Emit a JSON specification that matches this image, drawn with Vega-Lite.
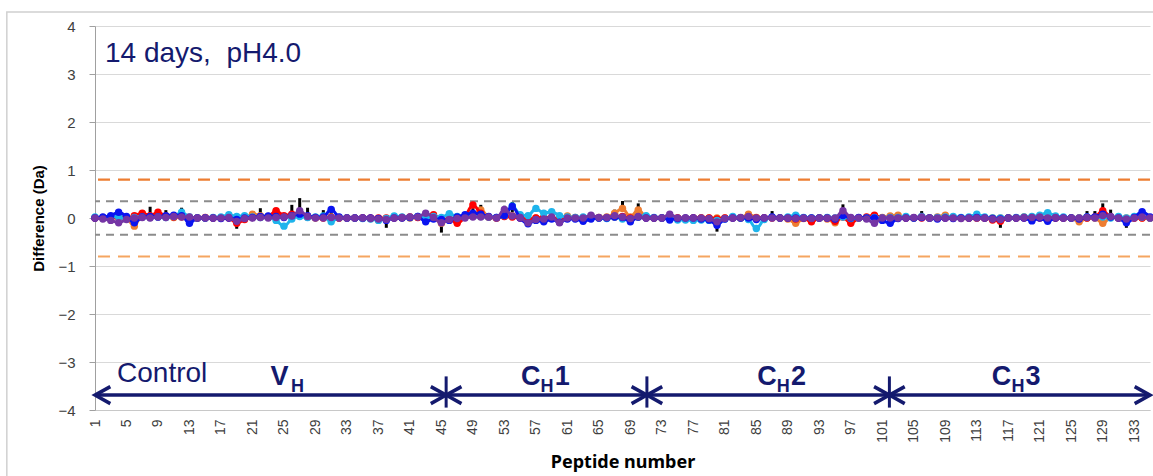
{
"$schema":"https://vega.github.io/schema/vega-lite/v6.json",
"width":1055,"height":384,
"autosize":{"type":"none"},
"padding":{"left":95,"top":26,"right":3,"bottom":66},
"background":"white",
"config":{"view":{"stroke":null},
 "axisX":{"labelAngle":-90,"labelAlign":"right","labelBaseline":"middle","labelOverlap":false,"ticks":false,"grid":false,"domainColor":"#c8c8c8","labelFont":"Liberation Sans","labelFontSize":14,"labelColor":"#404040","labelPadding":9,"titleFont":"Noto Sans","titleFontSize":18,"titleFontWeight":"bold","titleColor":"#000000","titlePadding":11},
 "axisY":{"grid":true,"gridColor":"#d9d9d9","domainColor":"#a0a0a0","tickColor":"#a0a0a0","tickSize":6,"labelFont":"Liberation Sans","labelFontSize":15,"labelColor":"#404040","labelPadding":14,"titleFont":"Liberation Sans","titleFontSize":15,"titleFontWeight":"bold","titleColor":"#000000","titlePadding":11}
},
"datasets":{
"one":[{}],
"pep":[
{"p":1,"k":0,"o":0,"r":0,"c":0.02,"b":0,"u":0},
{"p":2,"k":0,"o":0.01,"r":0,"c":0,"b":0.02,"u":-0.02},
{"p":3,"k":0,"o":0.02,"r":0,"c":0.03,"b":0.05,"u":-0.05},
{"p":4,"k":0,"o":0.02,"r":0.01,"c":0.02,"b":0.12,"u":-0.1},
{"p":5,"k":0,"o":0,"r":0,"c":-0.02,"b":0.03,"u":-0.03},
{"p":6,"k":0,"o":-0.17,"r":0.05,"c":0.01,"b":-0.1,"u":0},
{"p":7,"k":0,"o":0.09,"r":0.1,"c":0.02,"b":0.02,"u":0.01},
{"p":8,"k":0.13,"o":0.04,"r":0.05,"c":0.01,"b":0.03,"u":0},
{"p":9,"k":0,"o":0.06,"r":0.12,"c":0.02,"b":0.02,"u":0.02},
{"p":10,"k":0.06,"o":0.03,"r":0.04,"c":0.01,"b":0.05,"u":0.01},
{"p":11,"k":0,"o":0.01,"r":0.02,"c":0.03,"b":0.06,"u":0.03},
{"p":12,"k":0.11,"o":0.02,"r":0.03,"c":0.12,"b":0.05,"u":0.02},
{"p":13,"k":0,"o":-0.02,"r":-0.07,"c":0.02,"b":-0.11,"u":0.02},
{"p":14,"k":0,"o":0,"r":0,"c":0,"b":0,"u":0},
{"p":15,"k":0,"o":0,"r":0.01,"c":0,"b":0,"u":0},
{"p":16,"k":0,"o":0,"r":0,"c":0.01,"b":0,"u":0},
{"p":17,"k":0,"o":0,"r":0,"c":0.02,"b":-0.01,"u":0},
{"p":18,"k":0,"o":0.01,"r":0,"c":0.07,"b":0,"u":0.01},
{"p":19,"k":-0.12,"o":-0.03,"r":-0.11,"c":0.03,"b":-0.03,"u":-0.07},
{"p":20,"k":0,"o":0,"r":-0.03,"c":0.05,"b":0,"u":-0.01},
{"p":21,"k":0,"o":0.08,"r":0.01,"c":0.02,"b":0.01,"u":0},
{"p":22,"k":0.1,"o":0.05,"r":0.02,"c":0.01,"b":0.03,"u":0.01},
{"p":23,"k":0,"o":0.02,"r":0.03,"c":0.02,"b":0.04,"u":0},
{"p":24,"k":0,"o":0.13,"r":0.15,"c":-0.05,"b":0.03,"u":0.01},
{"p":25,"k":0,"o":0.02,"r":0.05,"c":-0.17,"b":0.01,"u":0.02},
{"p":26,"k":0.17,"o":0.04,"r":0.08,"c":-0.02,"b":0.05,"u":0.04},
{"p":27,"k":0.31,"o":0.05,"r":0.06,"c":0.03,"b":0.08,"u":0.15},
{"p":28,"k":0.11,"o":0.02,"r":0.02,"c":0.01,"b":0.05,"u":0.03},
{"p":29,"k":0,"o":0,"r":0.01,"c":0.02,"b":0.01,"u":0},
{"p":30,"k":0.06,"o":0.01,"r":0,"c":0.04,"b":0.02,"u":0},
{"p":31,"k":0.03,"o":0.02,"r":0.01,"c":-0.08,"b":0.18,"u":0.01},
{"p":32,"k":0,"o":0,"r":0,"c":0.01,"b":0.02,"u":0},
{"p":33,"k":0,"o":0,"r":0,"c":0,"b":0,"u":0},
{"p":34,"k":0,"o":0,"r":0,"c":0,"b":0,"u":0},
{"p":35,"k":0,"o":0,"r":0,"c":-0.01,"b":0,"u":0},
{"p":36,"k":0,"o":-0.01,"r":0,"c":-0.02,"b":0,"u":-0.01},
{"p":37,"k":0,"o":-0.04,"r":0,"c":-0.05,"b":-0.01,"u":-0.02},
{"p":38,"k":-0.1,"o":-0.02,"r":0,"c":-0.01,"b":-0.05,"u":-0.03},
{"p":39,"k":0,"o":0.01,"r":0,"c":0.04,"b":0,"u":0},
{"p":40,"k":0,"o":0,"r":0.01,"c":0.02,"b":0,"u":0.01},
{"p":41,"k":0,"o":0,"r":0.02,"c":0.01,"b":0.01,"u":0.02},
{"p":42,"k":0,"o":0.02,"r":0.01,"c":0.03,"b":0.03,"u":0.02},
{"p":43,"k":0,"o":0.03,"r":0.02,"c":0.02,"b":-0.08,"u":0.1},
{"p":44,"k":0,"o":0.02,"r":0.07,"c":0.03,"b":-0.02,"u":0.01},
{"p":45,"k":-0.2,"o":-0.11,"r":-0.03,"c":0.01,"b":-0.03,"u":-0.1},
{"p":46,"k":0,"o":-0.02,"r":-0.02,"c":0.09,"b":-0.05,"u":-0.03},
{"p":47,"k":0,"o":0.01,"r":-0.11,"c":0.03,"b":0.02,"u":-0.01},
{"p":48,"k":0,"o":0.02,"r":0.03,"c":0.04,"b":0.07,"u":0},
{"p":49,"k":0.1,"o":0.06,"r":0.27,"c":0.05,"b":0.1,"u":0.02},
{"p":50,"k":0.17,"o":0.17,"r":0.1,"c":0.03,"b":0.08,"u":0.02},
{"p":51,"k":0,"o":0.02,"r":0.02,"c":0.02,"b":0.03,"u":0.02},
{"p":52,"k":0,"o":0,"r":0,"c":0.01,"b":0.01,"u":0},
{"p":53,"k":0.15,"o":0.04,"r":0.03,"c":0.05,"b":0.05,"u":0.18},
{"p":54,"k":0.23,"o":0.05,"r":0.02,"c":0.25,"b":0.24,"u":0.04},
{"p":55,"k":0,"o":0.02,"r":0,"c":0.07,"b":0,"u":0.01},
{"p":56,"k":0,"o":-0.02,"r":-0.03,"c":0.05,"b":-0.12,"u":-0.1},
{"p":57,"k":0,"o":0,"r":0,"c":0.2,"b":-0.05,"u":-0.03},
{"p":58,"k":0,"o":0.01,"r":0.01,"c":0.1,"b":-0.08,"u":-0.02},
{"p":59,"k":0,"o":0,"r":0,"c":0.13,"b":-0.02,"u":0.02},
{"p":60,"k":0,"o":-0.02,"r":-0.01,"c":0.05,"b":-0.09,"u":-0.1},
{"p":61,"k":0,"o":0.04,"r":0,"c":0.02,"b":-0.02,"u":0},
{"p":62,"k":0,"o":0.01,"r":0,"c":0.01,"b":-0.02,"u":0},
{"p":63,"k":0,"o":0,"r":-0.01,"c":0.02,"b":-0.07,"u":0},
{"p":64,"k":0,"o":0.01,"r":0,"c":0.01,"b":-0.02,"u":0.06},
{"p":65,"k":0,"o":0.01,"r":0,"c":0,"b":0,"u":0.01},
{"p":66,"k":0,"o":0.02,"r":0,"c":-0.01,"b":0,"u":0.01},
{"p":67,"k":0.07,"o":0.1,"r":0.02,"c":0.02,"b":0.02,"u":0.05},
{"p":68,"k":0.25,"o":0.2,"r":0.03,"c":-0.02,"b":0.01,"u":0.02},
{"p":69,"k":0,"o":0.02,"r":0,"c":-0.03,"b":-0.08,"u":-0.01},
{"p":70,"k":0.2,"o":0.17,"r":0.02,"c":0.02,"b":0.02,"u":0.03},
{"p":71,"k":0,"o":0.02,"r":0,"c":0.05,"b":0,"u":0},
{"p":72,"k":0,"o":0,"r":0,"c":0.01,"b":0,"u":0},
{"p":73,"k":0,"o":0,"r":0,"c":0,"b":0,"u":0},
{"p":74,"k":0,"o":0.01,"r":0,"c":0.02,"b":-0.04,"u":0.08},
{"p":75,"k":0,"o":0,"r":0,"c":-0.04,"b":-0.01,"u":0},
{"p":76,"k":0,"o":0,"r":-0.02,"c":-0.04,"b":0,"u":0},
{"p":77,"k":0,"o":0,"r":0,"c":-0.05,"b":0,"u":0},
{"p":78,"k":0,"o":0,"r":0,"c":-0.04,"b":-0.02,"u":0},
{"p":79,"k":0,"o":0,"r":0,"c":-0.05,"b":-0.04,"u":-0.01},
{"p":80,"k":-0.18,"o":0,"r":-0.02,"c":-0.05,"b":-0.15,"u":-0.08},
{"p":81,"k":0,"o":0,"r":0,"c":-0.02,"b":-0.02,"u":-0.01},
{"p":82,"k":0,"o":0.01,"r":0,"c":0.03,"b":0,"u":0},
{"p":83,"k":0,"o":0,"r":0,"c":0,"b":0,"u":0.01},
{"p":84,"k":0,"o":0.08,"r":0.02,"c":-0.03,"b":0,"u":0.03},
{"p":85,"k":0,"o":0.01,"r":0,"c":-0.22,"b":-0.03,"u":0},
{"p":86,"k":0,"o":0,"r":0,"c":-0.03,"b":0,"u":0},
{"p":87,"k":0.04,"o":0.01,"r":0,"c":0.01,"b":0.02,"u":0},
{"p":88,"k":0,"o":0,"r":0,"c":0,"b":0,"u":0},
{"p":89,"k":0,"o":-0.02,"r":0,"c":0.02,"b":0,"u":0},
{"p":90,"k":0,"o":-0.11,"r":-0.02,"c":0.06,"b":0,"u":-0.01},
{"p":91,"k":0,"o":-0.01,"r":0,"c":0.01,"b":0,"u":0},
{"p":92,"k":0,"o":0,"r":-0.08,"c":0,"b":0,"u":-0.01},
{"p":93,"k":0,"o":0,"r":0,"c":0,"b":0,"u":0},
{"p":94,"k":0,"o":-0.02,"r":0,"c":0.01,"b":0,"u":0},
{"p":95,"k":0,"o":-0.1,"r":-0.07,"c":0,"b":-0.02,"u":0},
{"p":96,"k":0.18,"o":0.03,"r":0.02,"c":0.02,"b":0.05,"u":0.15},
{"p":97,"k":0,"o":-0.05,"r":-0.11,"c":-0.01,"b":0,"u":0.01},
{"p":98,"k":0,"o":0,"r":0,"c":0,"b":0.01,"u":0},
{"p":99,"k":0,"o":0,"r":0.02,"c":0,"b":0,"u":-0.02},
{"p":100,"k":0,"o":0.02,"r":0.06,"c":0.01,"b":0,"u":-0.11},
{"p":101,"k":0,"o":0.01,"r":0,"c":0,"b":-0.05,"u":0},
{"p":102,"k":0,"o":0.04,"r":0,"c":0.01,"b":-0.11,"u":0},
{"p":103,"k":0,"o":0.06,"r":0,"c":0.01,"b":-0.01,"u":0},
{"p":104,"k":0,"o":0,"r":0,"c":0.03,"b":0,"u":0},
{"p":105,"k":0,"o":0,"r":0,"c":0,"b":0,"u":0.01},
{"p":106,"k":0.04,"o":0.02,"r":0,"c":0.03,"b":0.01,"u":0.02},
{"p":107,"k":0,"o":0,"r":0,"c":0,"b":0,"u":0},
{"p":108,"k":0,"o":0.02,"r":0,"c":0.01,"b":-0.02,"u":0},
{"p":109,"k":0,"o":0.06,"r":0,"c":0.02,"b":0,"u":0},
{"p":110,"k":0,"o":0,"r":0,"c":0.03,"b":-0.01,"u":0},
{"p":111,"k":0,"o":0,"r":0,"c":0.01,"b":0,"u":-0.01},
{"p":112,"k":0,"o":0,"r":0,"c":0.02,"b":0,"u":0},
{"p":113,"k":0,"o":0,"r":0,"c":0.08,"b":0.01,"u":0},
{"p":114,"k":0,"o":0,"r":0,"c":0.02,"b":0,"u":0},
{"p":115,"k":0,"o":0,"r":-0.04,"c":0,"b":-0.01,"u":-0.02},
{"p":116,"k":-0.1,"o":0,"r":-0.07,"c":0,"b":-0.02,"u":-0.03},
{"p":117,"k":0,"o":0,"r":0,"c":0,"b":0,"u":0},
{"p":118,"k":0,"o":0,"r":0,"c":0.01,"b":0,"u":0},
{"p":119,"k":0,"o":0.02,"r":0,"c":0.02,"b":0,"u":0.01},
{"p":120,"k":0,"o":0,"r":0,"c":0.03,"b":-0.06,"u":0.01},
{"p":121,"k":0,"o":0.02,"r":0,"c":0.06,"b":0,"u":0.02},
{"p":122,"k":0,"o":0,"r":0,"c":0.11,"b":-0.07,"u":0},
{"p":123,"k":0,"o":0,"r":0,"c":0.04,"b":0,"u":0.01},
{"p":124,"k":0,"o":0,"r":0,"c":0.02,"b":0,"u":0},
{"p":125,"k":0,"o":0,"r":0,"c":0,"b":0,"u":0},
{"p":126,"k":0,"o":-0.08,"r":0,"c":0,"b":-0.02,"u":0},
{"p":127,"k":0.04,"o":0,"r":0,"c":0.02,"b":0.02,"u":0.01},
{"p":128,"k":0.04,"o":0,"r":0.02,"c":0.01,"b":0.02,"u":0},
{"p":129,"k":0.2,"o":-0.11,"r":0.15,"c":0.02,"b":0.08,"u":0.05},
{"p":130,"k":0.07,"o":0.01,"r":0.02,"c":0,"b":0.02,"u":0.03},
{"p":131,"k":0,"o":0,"r":0,"c":0.03,"b":0,"u":0},
{"p":132,"k":-0.1,"o":0,"r":-0.02,"c":0,"b":-0.1,"u":-0.02},
{"p":133,"k":0,"o":0,"r":0,"c":0.03,"b":0.01,"u":0},
{"p":134,"k":0,"o":0,"r":0,"c":0.02,"b":0.13,"u":0.02},
{"p":135,"k":0,"o":0,"r":0,"c":0,"b":0.02,"u":0}
],
"seps":[{"p":45.6},{"p":71.1},{"p":101.9}],
"headsL":[{"p":1},{"p":45.6},{"p":71.1},{"p":101.9}],
"headsR":[{"p":45.6},{"p":71.1},{"p":101.9},{"p":135}],
"txt":[{"p":2.27,"v":3.25,"t":"14 days,\u00a0 pH4.0"},{"p":3.8,"v":-3.41,"t":"Control"}],
"big":[{"p":23.3,"v":-3.47,"t":"V"},{"p":55.1,"v":-3.47,"t":"C"},{"p":59.4,"v":-3.47,"t":"1"},{"p":85.1,"v":-3.47,"t":"C"},{"p":89.4,"v":-3.47,"t":"2"},{"p":114.9,"v":-3.47,"t":"C"},{"p":119.2,"v":-3.47,"t":"3"}],
"sub":[{"p":25.9,"v":-3.62,"t":"H"},{"p":57.6,"v":-3.62,"t":"H"},{"p":87.6,"v":-3.62,"t":"H"},{"p":117.4,"v":-3.62,"t":"H"}]
},
"layer":[
{"data":{"name":"one"},"mark":{"type":"rect","fill":null,"fillOpacity":0,"stroke":"#d0d0d0","strokeWidth":1.5},"encoding":{"x":{"datum":-10.2,"type":"quantitative"},"x2":{"datum":140},"y":{"datum":4.29,"type":"quantitative"},"y2":{"datum":-6}}},
{"data":{"name":"one"},"mark":{"type":"rule","color":"#ED7D31","strokeWidth":2.2,"strokeDash":[12,8]},"encoding":{"y":{"datum":0.8,"type":"quantitative"}}},
{"data":{"name":"one"},"mark":{"type":"rule","color":"#F5A560","strokeWidth":2,"strokeDash":[12,8]},"encoding":{"y":{"datum":-0.8,"type":"quantitative"}}},
{"data":{"name":"one"},"mark":{"type":"rule","color":"#8C8C8C","strokeWidth":2,"strokeDash":[8,6]},"encoding":{"y":{"datum":0.35,"type":"quantitative"}}},
{"data":{"name":"one"},"mark":{"type":"rule","color":"#8C8C8C","strokeWidth":2,"strokeDash":[8,6]},"encoding":{"y":{"datum":-0.35,"type":"quantitative"}}},
{"data":{"name":"pep"},"transform":[{"filter":"abs(datum.k) >= 0.03"}],"mark":{"type":"point","shape":"M0,-1L0,1","filled":false,"stroke":"#000000","strokeWidth":3,"size":100,"opacity":1},
 "encoding":{"x":{"field":"p","type":"quantitative","scale":{"domain":[1,135],"nice":false,"zero":false},"axis":{"title":"Peptide number","format":"d","tickCount":200,"labelOverlap":false,"values":[1,5,9,13,17,21,25,29,33,37,41,45,49,53,57,61,65,69,73,77,81,85,89,93,97,101,105,109,113,117,121,125,129,133]}},
  "y":{"field":"k","type":"quantitative","scale":{"domain":[-4,4],"nice":false},"axis":{"title":"Difference (Da)","format":"d","tickCount":20,"values":[-4,-3,-2,-1,0,1,2,3,4]}}}},
{"data":{"name":"pep"},"mark":{"type":"line","color":"#ED7D31","strokeWidth":3,"interpolate":"monotone","point":{"filled":true,"size":55,"color":"#ED7D31","opacity":1}},
 "encoding":{"x":{"field":"p","type":"quantitative","title":"Peptide number"},"y":{"field":"o","type":"quantitative","title":"Difference (Da)"}}},
{"data":{"name":"pep"},"mark":{"type":"line","color":"#FF0000","strokeWidth":3,"interpolate":"monotone","point":{"filled":true,"size":55,"color":"#FF0000","opacity":1}},
 "encoding":{"x":{"field":"p","type":"quantitative","title":"Peptide number"},"y":{"field":"r","type":"quantitative","title":"Difference (Da)"}}},
{"data":{"name":"pep"},"mark":{"type":"line","color":"#1EB4EC","strokeWidth":3,"interpolate":"monotone","point":{"filled":true,"size":55,"color":"#1EB4EC","opacity":1}},
 "encoding":{"x":{"field":"p","type":"quantitative","title":"Peptide number"},"y":{"field":"c","type":"quantitative","title":"Difference (Da)"}}},
{"data":{"name":"pep"},"mark":{"type":"line","color":"#0A14F0","strokeWidth":3,"interpolate":"monotone","point":{"filled":true,"size":55,"color":"#0A14F0","opacity":1}},
 "encoding":{"x":{"field":"p","type":"quantitative","title":"Peptide number"},"y":{"field":"b","type":"quantitative","title":"Difference (Da)"}}},
{"data":{"name":"pep"},"mark":{"type":"line","color":"#7535A5","strokeWidth":3,"interpolate":"monotone","point":{"filled":true,"size":55,"color":"#7535A5","opacity":1}},
 "encoding":{"x":{"field":"p","type":"quantitative","title":"Peptide number"},"y":{"field":"u","type":"quantitative","title":"Difference (Da)"}}},
{"data":{"name":"one"},"mark":{"type":"rule","color":"#141A6E","strokeWidth":3.5},"encoding":{"x":{"datum":1,"type":"quantitative"},"x2":{"datum":135},"y":{"datum":-3.69,"type":"quantitative"}}},
{"data":{"name":"seps"},"mark":{"type":"rule","color":"#141A6E","strokeWidth":3},"encoding":{"x":{"field":"p","type":"quantitative","title":"Peptide number"},"y":{"datum":-3.3,"type":"quantitative"},"y2":{"datum":-3.95}}},
{"data":{"name":"headsL"},"mark":{"type":"point","shape":"M1.8,-1L0,0L1.8,1","filled":false,"stroke":"#141A6E","strokeWidth":3.5,"size":290,"opacity":1,"strokeJoin":"miter"},"encoding":{"x":{"field":"p","type":"quantitative","title":"Peptide number"},"y":{"datum":-3.69,"type":"quantitative"}}},
{"data":{"name":"headsR"},"mark":{"type":"point","shape":"M-1.8,-1L0,0L-1.8,1","filled":false,"stroke":"#141A6E","strokeWidth":3.5,"size":290,"opacity":1,"strokeJoin":"miter"},"encoding":{"x":{"field":"p","type":"quantitative","title":"Peptide number"},"y":{"datum":-3.69,"type":"quantitative"}}},
{"data":{"name":"txt"},"mark":{"type":"text","font":"Liberation Sans","fontSize":28,"color":"#141A6E","align":"left","baseline":"alphabetic"},"encoding":{"x":{"field":"p","type":"quantitative","title":"Peptide number"},"y":{"field":"v","type":"quantitative","title":"Difference (Da)"},"text":{"field":"t"}}},
{"data":{"name":"big"},"mark":{"type":"text","font":"Liberation Sans","fontSize":27,"fontWeight":"bold","color":"#141A6E","align":"left","baseline":"alphabetic"},"encoding":{"x":{"field":"p","type":"quantitative","title":"Peptide number"},"y":{"field":"v","type":"quantitative","title":"Difference (Da)"},"text":{"field":"t"}}},
{"data":{"name":"sub"},"mark":{"type":"text","font":"Liberation Sans","fontSize":18,"fontWeight":"bold","color":"#141A6E","align":"left","baseline":"alphabetic"},"encoding":{"x":{"field":"p","type":"quantitative","title":"Peptide number"},"y":{"field":"v","type":"quantitative","title":"Difference (Da)"},"text":{"field":"t"}}}
]
}
